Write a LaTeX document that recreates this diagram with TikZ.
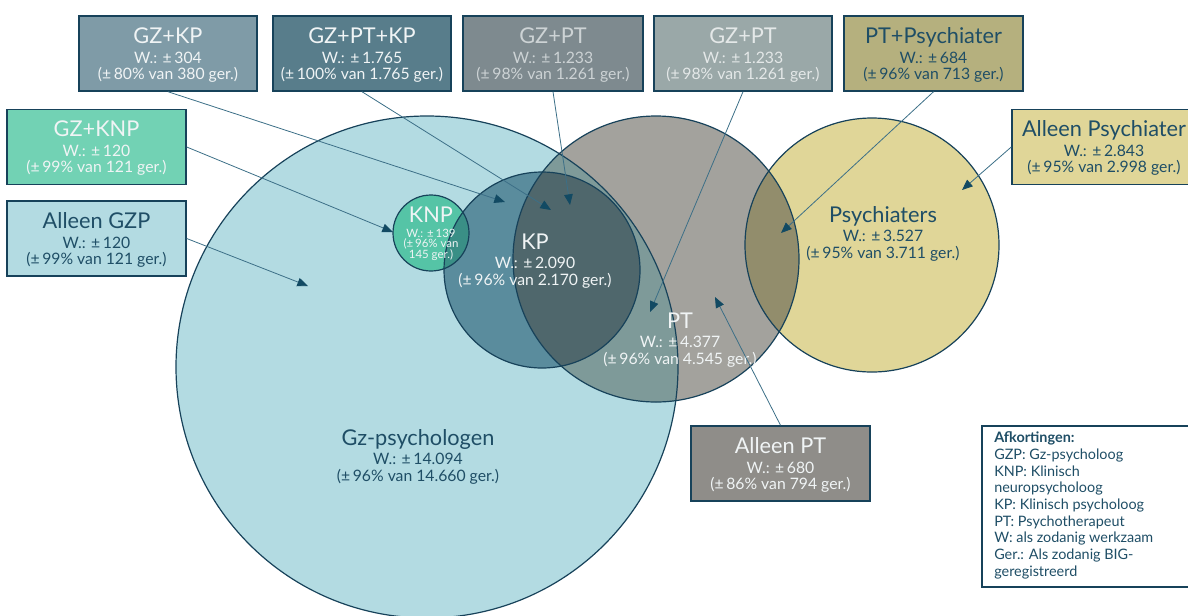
\documentclass[tikz,border=0pt]{standalone}
\usepackage{fontspec}
\setmainfont{Lato}
\usetikzlibrary{arrows.meta}
\definecolor{navy}{HTML}{1F4E66}
\definecolor{outl}{HTML}{17425A}
\definecolor{lite}{HTML}{F0F4F5}
\definecolor{gzfill}{HTML}{B3DBE2}
\definecolor{kpfill}{HTML}{5A8C9D}
\definecolor{knpfill}{HTML}{55C4A6}
\definecolor{knpkp}{HTML}{3A8F86}
\definecolor{ptfill}{HTML}{A3A29D}
\definecolor{ptgz}{HTML}{7E9A99}
\definecolor{ptkp}{HTML}{4F676C}
\definecolor{psyfill}{HTML}{E0D698}
\definecolor{psypt}{HTML}{928D6C}
\definecolor{bgzkp}{HTML}{7F9BA7}
\definecolor{bgzptkp}{HTML}{587D8B}
\definecolor{bgzptA}{HTML}{7E8A8F}
\definecolor{bgzptB}{HTML}{9AA8A8}
\definecolor{bptpsy}{HTML}{B5B07E}
\definecolor{bgzknp}{HTML}{72D2B4}
\definecolor{balpt}{HTML}{8F8D89}
\definecolor{txtA}{HTML}{CDD3D5}
\definecolor{txtB}{HTML}{E4E8E8}
\definecolor{arrline}{HTML}{3C6F87}
\definecolor{arrhead}{HTML}{124A63}
\newcommand\mkboxtext[7]{%
  \node[ttl,text=#4] (#1-t) at (#2,#3+27.5) {#5};
  \node[sub,text=#4] (#1-w) at (#2,#3+47) {#6};
  \node[sub,text=#4] (#1-g) at (#2,#3+63) {#7};}
\newcommand\mkcirctext[7]{%
  \node[ttl,text=#4] (#1-t) at (#2,#3) {#5};
  \node[sub,text=#4] (#1-w) at (#2,#3+19.5) {#6};
  \node[sub,text=#4] (#1-g) at (#2,#3+36) {#7};}
\begin{document}
\begin{tikzpicture}[x=0.75pt,y=-0.75pt,
  ttl/.style={font=\fontsize{16.3}{19}\selectfont, anchor=base, inner sep=0},
  sub/.style={font=\fontsize{11.8}{14}\selectfont, anchor=base, inner sep=0},
  tinytxt/.style={font=\fontsize{8.6}{10}\selectfont, anchor=base, inner sep=0, text=lite},
  legtxt/.style={font=\fontsize{10.8}{13}\selectfont, anchor=base west, inner sep=0, text=navy},
  infobox/.style={draw=outl, line width=1.1pt, minimum width=#1*0.75pt, minimum height=56.25pt, inner sep=0},
  circline/.style={draw=outl, line width=0.9pt},
  conn/.style={draw=arrline, line width=0.6pt, -{Triangle[length=8pt,width=6.5pt,color=arrhead]}}
]
\useasboundingbox (0,0) rectangle (1188,615);
\begin{scope}
\clip (0,0) rectangle (1188,615);
% circle centres
\coordinate (gz) at (427,367);
\coordinate (kp) at (542,270);
\coordinate (knp) at (431,233);
\coordinate (pt) at (656,259);
\coordinate (psy) at (872,245);
% fills
\fill[gzfill] (gz) circle[radius=251];
\fill[kpfill] (kp) circle[radius=98];
\fill[knpfill] (knp) circle[radius=38];
\begin{scope}\clip (kp) circle[radius=98]; \fill[knpkp] (knp) circle[radius=38];\end{scope}
\fill[ptfill] (pt) circle[radius=143];
\begin{scope}\clip (gz) circle[radius=251]; \fill[ptgz] (pt) circle[radius=143];\end{scope}
\begin{scope}\clip (kp) circle[radius=98]; \fill[ptkp] (pt) circle[radius=143];\end{scope}
\fill[psyfill] (psy) circle[radius=127];
\begin{scope}\clip (pt) circle[radius=143]; \fill[psypt] (psy) circle[radius=127];\end{scope}
% outlines
\draw[circline] (gz) circle[radius=251];
\draw[circline] (kp) circle[radius=98];
\draw[circline] (knp) circle[radius=38];
\draw[circline] (pt) circle[radius=143];
\draw[circline] (psy) circle[radius=127];
% circle texts
\mkcirctext{gzl}{418}{445}{navy}{Gz-psychologen}{W.: ±\,14.094}{(±\,96\% van 14.660 ger.)}
\mkcirctext{kpl}{535}{249}{lite}{KP}{W.: ±\,2.090}{(±\,96\% van 2.170 ger.)}
\mkcirctext{ptl}{680}{328}{lite}{PT}{W.: ±\,4.377}{(±\,96\% van 4.545 ger.)}
\mkcirctext{psyl}{883}{222}{navy}{Psychiaters}{W.: ±\,3.527}{(±\,95\% van 3.711 ger.)}
\node[ttl,text=lite] (knpl-t) at (431,222) {KNP};
\node[tinytxt] (knpl-w) at (431,237) {W.: ±\,139};
\node[tinytxt] (knpl-g) at (431,247) {(±\,96\% van};
\node[tinytxt] (knpl-h) at (431,258) {145 ger.)};
% boxes
\node[infobox=178, fill=bgzkp] (gzkp) at (168,53.5) {};
\node[infobox=178, fill=bgzptkp] (gzptkp) at (362,53.5) {};
\node[infobox=180, fill=bgzptA] (gzptA) at (553,53.5) {};
\node[infobox=178, fill=bgzptB] (gzptB) at (743,53.5) {};
\node[infobox=179, fill=bptpsy] (ptpsy) at (933.5,53.5) {};
\node[infobox=180, fill=psyfill] (alpsy) at (1102,147) {};
\node[infobox=179, fill=bgzknp] (gzknp) at (96.5,147) {};
\node[infobox=179, fill=gzfill] (algzp) at (96.5,238.5) {};
\node[infobox=179, fill=balpt] (alpt) at (780.5,463.5) {};
\node[draw=outl, line width=1.1pt, fill=white, minimum width=157.5pt, minimum height=120.75pt, inner sep=0] (legend) at (1087,506.5) {};
\mkboxtext{gzkpl}{168}{16}{lite}{GZ+KP}{W.: ±\,304}{(±\,80\% van 380 ger.)}
\mkboxtext{gzptkpl}{362}{16}{lite}{GZ+PT+KP}{W.: ±\,1.765}{(±\,100\% van 1.765 ger.)}
\mkboxtext{gzptAl}{553}{16}{txtA}{GZ+PT}{W.: ±\,1.233}{(±\,98\% van 1.261 ger.)}
\mkboxtext{gzptBl}{743}{16}{txtB}{GZ+PT}{W.: ±\,1.233}{(±\,98\% van 1.261 ger.)}
\mkboxtext{ptpsyl}{933.5}{16}{navy}{PT+Psychiater}{W.: ±\,684}{(±\,96\% van 713 ger.)}
\mkboxtext{alpsyl}{1104}{109}{navy}{Alleen Psychiater}{W.: ±\,2.843}{(±\,95\% van 2.998 ger.)}
\mkboxtext{gzknpl}{96.5}{109}{lite}{GZ+KNP}{W.: ±\,120}{(±\,99\% van 121 ger.)}
\mkboxtext{algzpl}{96.5}{201}{navy}{Alleen GZP}{W.: ±\,120}{(±\,99\% van 121 ger.)}
\mkboxtext{alptl}{780.5}{426}{lite}{Alleen PT}{W.: ±\,680}{(±\,86\% van 794 ger.)}
% legend
\node[legtxt] (leg1) at (994,442.7) {\bfseries Afkortingen:};
\node[legtxt] (leg2) at (994,459.4) {GZP: Gz-psycholoog};
\node[legtxt] (leg3) at (994,476.1) {KNP: Klinisch};
\node[legtxt] (leg4) at (994,492.8) {neuropsycholoog};
\node[legtxt] (leg5) at (994,509.5) {KP: Klinisch psycholoog};
\node[legtxt] (leg6) at (994,526.2) {PT: Psychotherapeut};
\node[legtxt] (leg7) at (994,542.9) {W: als zodanig werkzaam};
\node[legtxt] (leg8) at (994,559.6) {Ger.: Als zodanig BIG-};
\node[legtxt] (leg9) at (994,576.3) {geregistreerd};
% arrow targets
\coordinate (t-gzkp) at (505,202);
\coordinate (t-gzptkp) at (551,210);
\coordinate (t-gzptA) at (570,205);
\coordinate (t-gzptB) at (650,312);
\coordinate (t-ptpsy) at (781,233);
\coordinate (t-alpsy) at (962,190);
\coordinate (t-gzknp) at (393,232);
\coordinate (t-algzp) at (308,286);
\coordinate (t-alpt) at (715,297);
% connectors
\draw[conn] (gzkp.south) -- (t-gzkp);
\draw[conn] (gzptkp.south) -- (t-gzptkp);
\draw[conn] (gzptA.south) -- (t-gzptA);
\draw[conn] (gzptB.south) -- (t-gzptB);
\draw[conn] (ptpsy.south) -- (t-ptpsy);
\draw[conn] (alpsy.west) -- (t-alpsy);
\draw[conn] (gzknp.east) -- (t-gzknp);
\draw[conn] (algzp.east) -- (t-algzp);
\draw[conn] (alpt.north) -- (t-alpt);
\end{scope}
\end{tikzpicture}
\end{document}
